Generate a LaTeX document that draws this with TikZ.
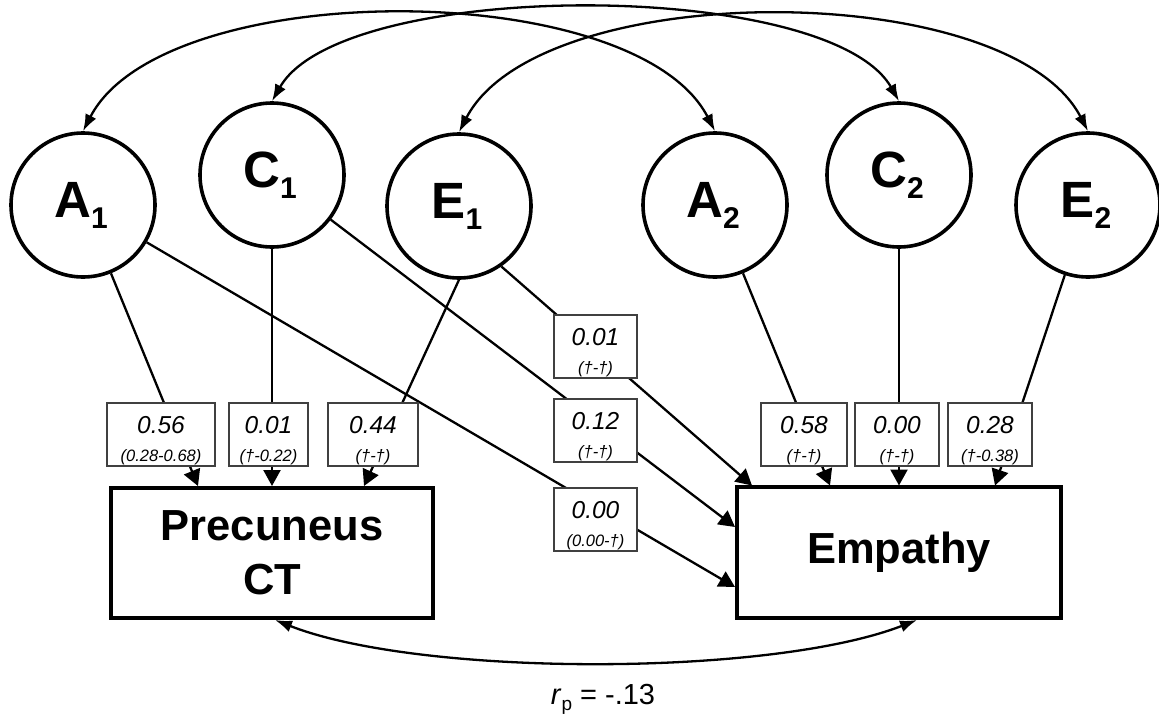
\documentclass[tikz,border=0pt]{standalone}
\usepackage{fontspec}
\setmainfont{Liberation Sans}
\usetikzlibrary{arrows.meta}
\tikzset{
 lat/.style={circle, draw, line width=3.6pt, minimum size=144pt, inner sep=0pt, font=\fontsize{51}{51}\selectfont\bfseries},
 obs/.style={rectangle, draw, line width=3.4pt, inner sep=0pt, align=center, font=\fontsize{43.5}{54}\selectfont\bfseries},
 conn/.style={line width=2.3pt, -{Triangle[length=16pt,width=17pt]}},
 cov/.style={line width=2.3pt, {Latex[length=17pt,width=12pt]}-{Latex[length=17pt,width=12pt]}},
 lblbox/.style={draw=black!75, line width=1.2pt, fill=white, minimum height=63pt, inner sep=0pt},
 numtxt/.style={inner sep=0pt, anchor=base, font=\fontsize{24.5}{24.5}\selectfont\itshape},
 citxt/.style={inner sep=0pt, anchor=base, font=\fontsize{16.5}{16.5}\selectfont\itshape},
}
\newcommand{\latlabel}[2]{\hspace*{-4pt}#1\raisebox{-11pt}{\fontsize{30}{30}\selectfont #2}}
\newcommand{\pathlbl}[6]{%
 \node[lblbox, minimum width=#4pt] (#1) at (#2,#3) {};
 \node[numtxt] (#1n) at (#2,#3-1.5) {#5};
 \node[citxt] (#1c) at (#2,#3+26.5) {#6};
}
\begin{document}
\begin{tikzpicture}[x=1pt,y=-1pt]
\useasboundingbox (0,0) rectangle (1159,720);
% latent variables
\node[lat] (A1) at (83,205) {\latlabel{A}{1}};
\node[lat] (C1) at (272,175) {\latlabel{C}{1}};
\node[lat] (E1) at (459,206) {\latlabel{E}{1}};
\node[lat] (A2) at (715,205) {\latlabel{A}{2}};
\node[lat] (C2) at (899,175) {\latlabel{C}{2}};
\node[lat] (E2) at (1088,205) {\latlabel{E}{2}};
% observed
\node[obs, minimum width=322pt, minimum height=130pt] (Prec) at (272,553) {Precuneus\\CT};
\node[obs, minimum width=324pt, minimum height=131pt] (Emp) at (899,552.5) {Empathy};
% endpoints
\coordinate (tA1) at (198,486);
\coordinate (tC1) at (272,486);
\coordinate (tE1) at (364,486);
\coordinate (tA2) at (830,485.5);
\coordinate (tC2) at (899,485.5);
\coordinate (tE2) at (995,485.5);
\coordinate (eE1) at (752,485.5);
\coordinate (eC1) at (735,527);
\coordinate (eA1) at (735,587);
\coordinate (bP) at (275,620);
\coordinate (bE) at (917,620);
% covariance arcs
\draw[cov] (A1.north) .. controls (163,-24) and (635,-24) .. (A2.north);
\draw[cov] (C1.north) .. controls (342,-22) and (829,-22) .. (C2.north);
\draw[cov] (E1.north) .. controls (539,-23) and (1008,-23) .. (E2.north);
\draw[cov] (bP) .. controls (420,677) and (770,677) .. (bE);
% paths
\draw[conn] (A1) -- (tA1);
\draw[conn] (C1) -- (tC1);
\draw[conn] (E1.south) -- (tE1);
\draw[conn] (A2) -- (tA2);
\draw[conn] (C2) -- (tC2);
\draw[conn] (E2) -- (tE2);
\draw[conn] (E1.-55) -- (eE1);
\draw[conn] (C1) -- (eC1);
\draw[conn] (A1) -- (eA1);
% labels
\pathlbl{lA1}{161}{434.5}{108}{0.56}{(0.28-0.68)}
\pathlbl{lC1}{268.5}{434.5}{79}{0.01}{(†-0.22)}
\pathlbl{lE1}{373}{434.5}{90}{0.44}{(†-†)}
\pathlbl{lEe}{595.5}{346.5}{83}{0.01}{(†-†)}
\pathlbl{lCe}{595.5}{430.5}{83}{0.12}{(†-†)}
\pathlbl{lAe}{595.5}{519.5}{83}{0.00}{(0.00-†)}
\pathlbl{lA2}{804}{434.5}{86}{0.58}{(†-†)}
\pathlbl{lC2}{897}{434.5}{84}{0.00}{(†-†)}
\pathlbl{lE2}{990}{434.5}{84}{0.28}{(†-0.38)}
\node[inner sep=0pt, font=\fontsize{29}{29}\selectfont] (rp) at (603,699) {\textit{r}\raisebox{-6pt}{\fontsize{19}{19}\selectfont p} = -.13};
\end{tikzpicture}
\end{document}
